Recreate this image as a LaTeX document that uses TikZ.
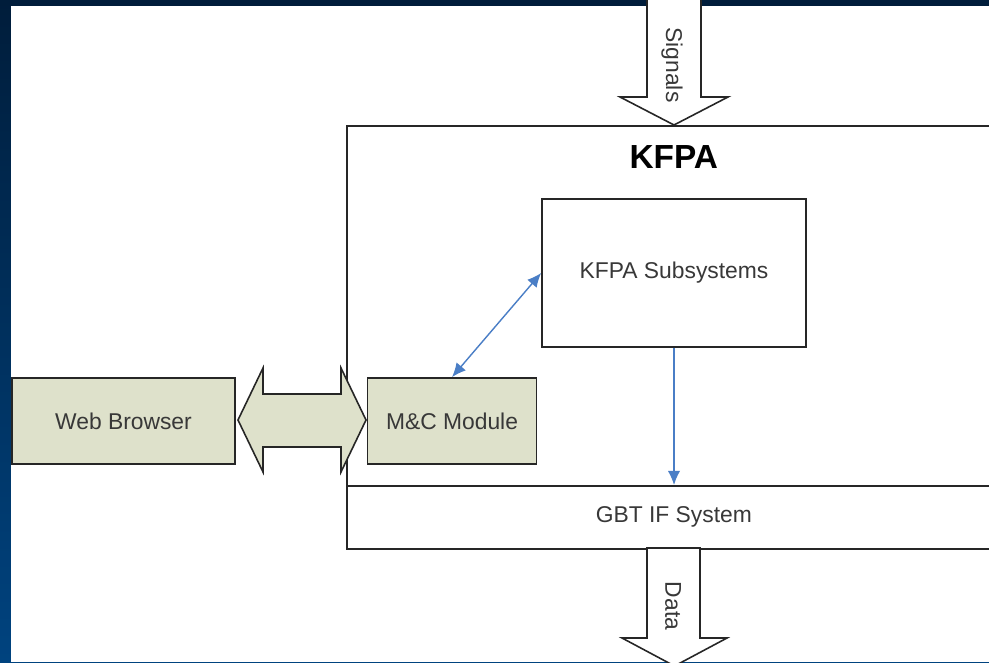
\documentclass[tikz,border=0pt]{standalone}
\usepackage{fontspec}
\setmainfont{Liberation Sans}
\usetikzlibrary{positioning, arrows, arrows.meta, shapes, shadows}
\definecolor{boxgreen}{HTML}{DEE1CB}
\definecolor{linkblue}{HTML}{4A7EC6}
\definecolor{navytop}{HTML}{001D3B}
\definecolor{navybot}{HTML}{00437F}
\definecolor{inkgray}{HTML}{383838}
\tikzset{
    >={Latex[length=8pt, width=7pt]}, % filled triangular heads
    block/.style={draw=black!85, line width=1pt, fill=white, text=inkgray,
        font=\fontsize{13}{15}\selectfont,
        general shadow={fill=black!45, shadow xshift=0.5pt, shadow yshift=-0.6pt}}, % every box
    module/.style={block, fill=boxgreen}, % the green boxes
    bigarrow/.style={draw=black!85, line width=0.9pt, fill=white}, % block arrows
    link/.style={draw=linkblue, line width=0.8pt}, % blue connectors
    label/.style={text=inkgray, font=\fontsize{13}{15}\selectfont},
}

\begin{document}
\begin{tikzpicture}[x=0.02cm, y=-0.02cm]
    \useasboundingbox (0,0) rectangle (989,662);
    % frame
    \shade[top color=navytop, bottom color=navybot] (0,0) rectangle (989,662);
    \fill[navytop] (0,0) rectangle (989,6);
    \fill[white] (11,6) rectangle (989,662);

    % boxes
    \node[block, anchor=north west, minimum width=13.08cm, minimum height=7.2cm] (kfpa) at (346,125) {};
    \node[font=\fontsize{19}{22}\selectfont\bfseries] (title) at ([yshift=-0.64cm]kfpa.north) {KFPA};
    \node[block, anchor=north west, minimum width=13.08cm, minimum height=1.26cm] (gbt) at (346,485) {GBT IF System};
    \node[block, minimum width=5.28cm, minimum height=2.96cm] (sub) at (674,273) {KFPA Subsystems};
    \node[module, minimum width=3.38cm, minimum height=1.72cm] (mc) at (452,421) {M\&C Module};
    \node[module, minimum width=4.46cm, minimum height=1.72cm] (web) at (123.5,421) {Web Browser};

    % signals in, data out
    \draw[bigarrow] (647,-5) -- (647,97) -- (620,97) -- (674,125) -- (728,97) -- (701,97) -- (701,-5) -- cycle;
    \node[label, rotate=-90] (signals) at (672,65) {Signals};
    \draw[bigarrow] (647,548) -- (647,638) -- (622,638) -- (674.5,666) -- (727,638) -- (700,638) -- (700,548) -- cycle;
    \node[label, rotate=-90] (data) at (673,606) {Data};

    % browser <-> module
    \draw[bigarrow, fill=boxgreen] (238,420) -- (263,368) -- (263,394) -- (341,394) -- (341,368)
        -- (366,420) -- (341,472) -- (341,447) -- (263,447) -- (263,472) -- cycle;

    % connectors
    \draw[link, <->] (mc.north) -- (sub.west);
    \draw[link, ->] (sub.south) -- (sub.south |- gbt.north);
\end{tikzpicture}
\end{document}
